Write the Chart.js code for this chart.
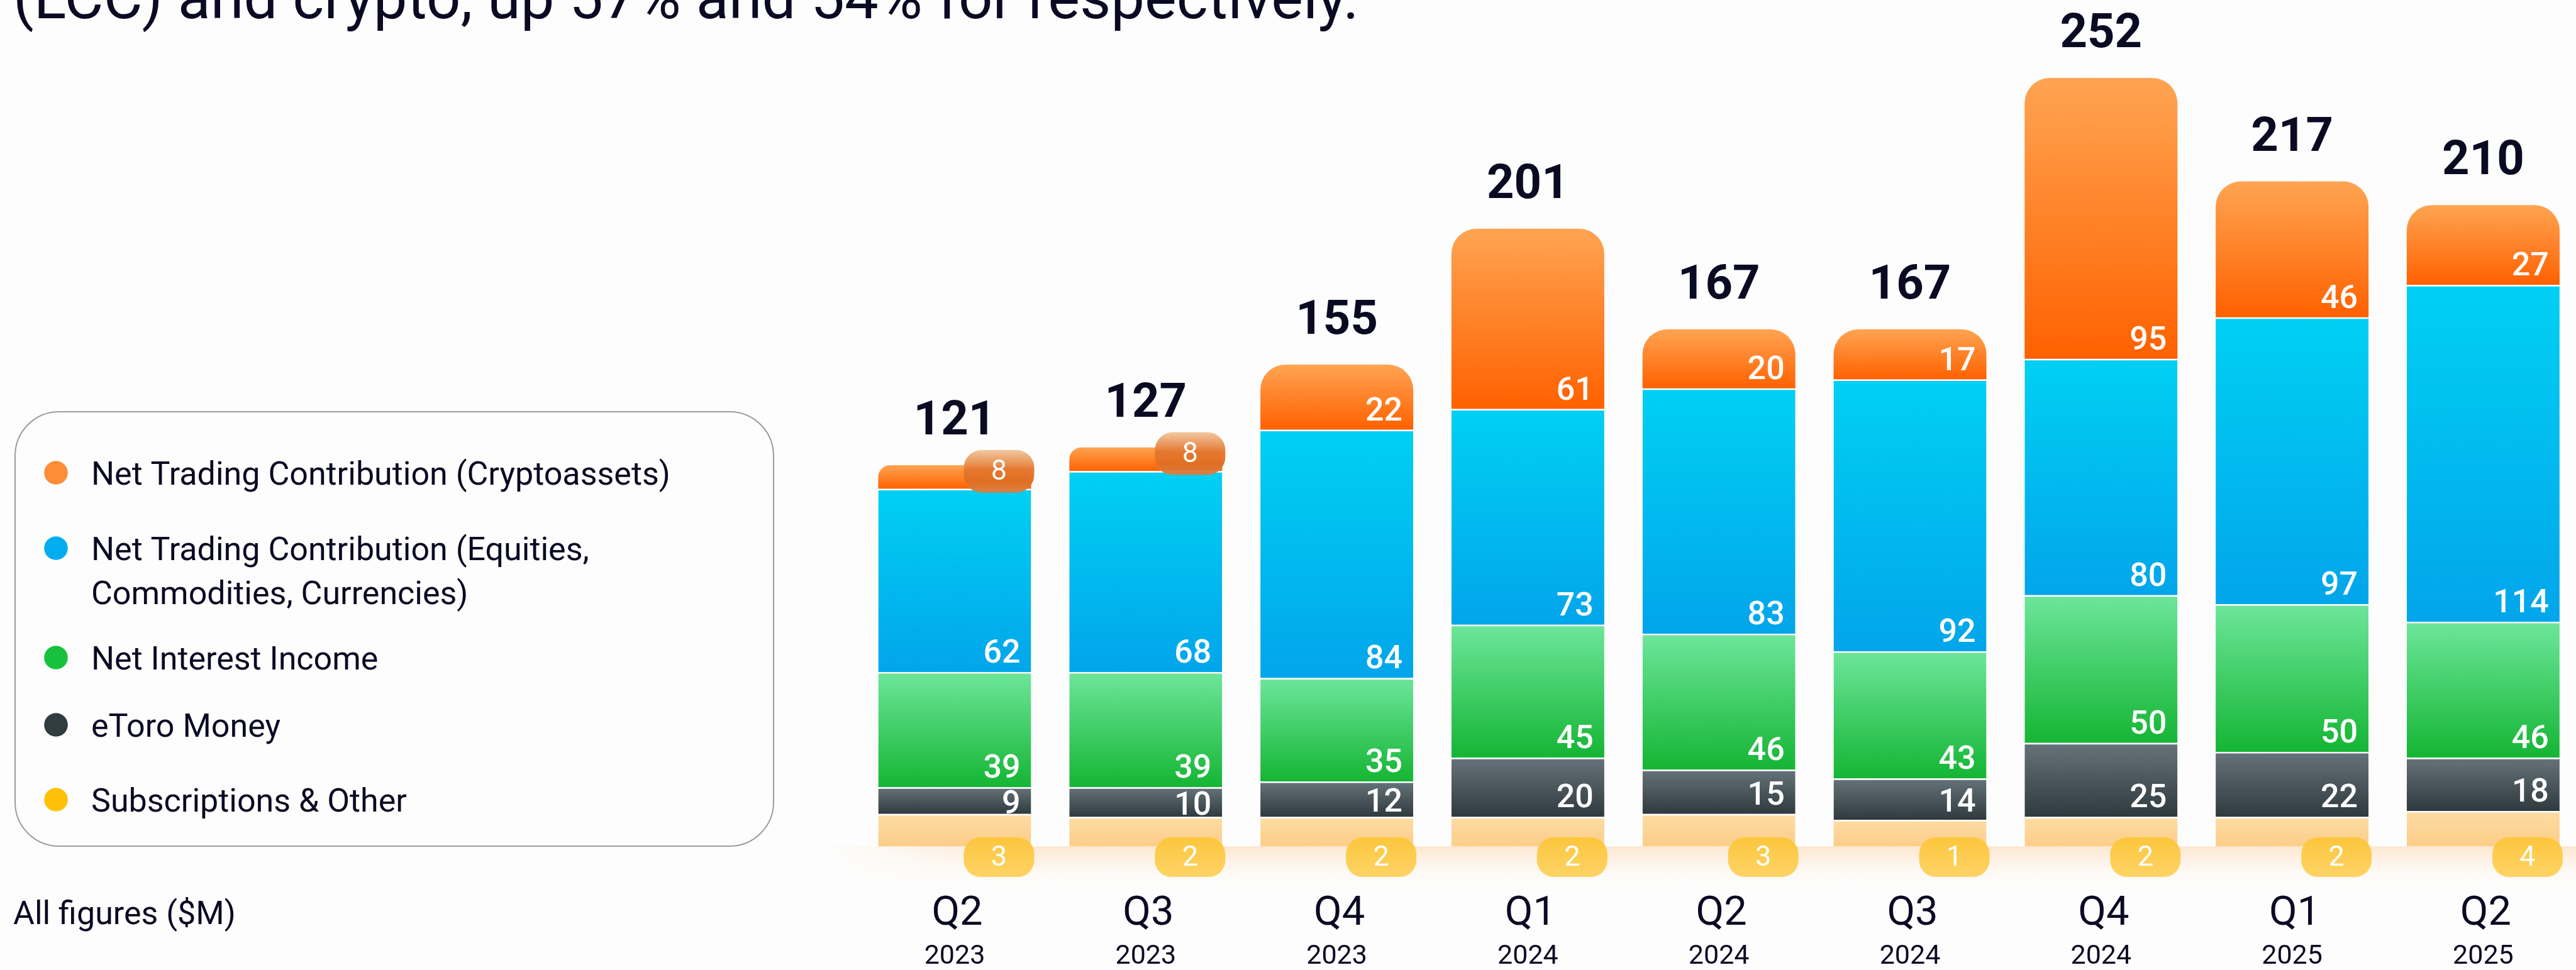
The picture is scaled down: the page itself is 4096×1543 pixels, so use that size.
<!DOCTYPE html>
<html>
<head>
<meta charset="utf-8">
<script src="https://cdn.jsdelivr.net/npm/chart.js@4.4.0/dist/chart.umd.min.js"></script>
<style>
  html, body { margin: 0; padding: 0; background: #fdfdfd; }
  #wrap { width: 4096px; height: 1543px; position: relative; }
</style>
</head>
<body>
<div id="wrap"><canvas id="revenueChart"></canvas></div>
<script>
const quarters = ['Q2', 'Q3', 'Q4', 'Q1', 'Q2', 'Q3', 'Q4', 'Q1', 'Q2'];
const years = ['2023', '2023', '2023', '2024', '2024', '2024', '2024', '2025', '2025'];

// $M per quarter, bottom of the stack first
const subscriptions = [3, 2, 2, 2, 3, 1, 2, 2, 4];
const etoroMoney = [9, 10, 12, 20, 15, 14, 25, 22, 18];
const netInterest = [39, 39, 35, 45, 46, 43, 50, 50, 46];
const tradingEquities = [62, 68, 84, 73, 83, 92, 80, 97, 114];
const tradingCrypto = [8, 8, 22, 61, 20, 17, 95, 46, 27];
const totals = [121, 127, 155, 201, 167, 167, 252, 217, 210];

const seriesNames = [
  'Subscriptions & Other',
  'eToro Money',
  'Net Interest Income',
  'Net Trading Contribution (Equities, Commodities, Currencies)',
  'Net Trading Contribution (Cryptoassets)'
];
const dotColors = ['#ffc107', '#303d40', '#17c13c', '#03aeef', '#ff8c38'];
const barShades = [
  ['#fddca4', '#fccd88'],
  ['#66737a', '#2e3a3e'],
  ['#6de69b', '#15b534'],
  ['#00d0f3', '#02a5ea'],
  ['#ffa452', '#ff6100']
];

const titleText = '(LCC) and crypto, up 57% and 54% for respectively.';
const noteText = 'All figures ($M)';

const stackData = [subscriptions, etoroMoney, netInterest, tradingEquities, tradingCrypto];
const Y_MIN = -8;
const Y_MAX = 275;
const INK = '#0a0a23';
const BG = '#fdfdfd';
const FONT = 'Roboto, "Noto Sans", sans-serif';
const CAP = 37.5;

const ctx = document.getElementById('revenueChart').getContext('2d');

function stackStart(d, i) {
  let s = 0;
  for (let k = 0; k < d; k++) s += stackData[k][i];
  return s;
}

function shade(d) {
  return (c) => {
    const chart = c.chart;
    if (!chart.chartArea || c.type !== 'data') return barShades[d][1];
    const y = chart.scales.y;
    const from = d === 0 ? Y_MIN : stackStart(d, c.dataIndex);
    const to = stackStart(d, c.dataIndex) + stackData[d][c.dataIndex];
    const g = chart.ctx.createLinearGradient(0, y.getPixelForValue(to), 0, y.getPixelForValue(from));
    g.addColorStop(0, barShades[d][0]);
    g.addColorStop(1, barShades[d][1]);
    return g;
  };
}

function drawTag(c, cx, cy, w, h, stops, text) {
  const g = c.createLinearGradient(0, cy - h / 2, 0, cy + h / 2);
  stops.forEach(s => g.addColorStop(s[0], s[1]));
  c.beginPath();
  c.roundRect(cx - w / 2, cy - h / 2, w, h, h * 0.42);
  c.fillStyle = g;
  c.fill();
  c.fillStyle = '#ffffff';
  c.font = '400 45px ' + FONT;
  c.textAlign = 'center';
  c.textBaseline = 'middle';
  c.fillText(text, cx, cy + 2);
}

const orangeTag = [[0, 'rgba(242,198,158,0.97)'], [0.45, 'rgba(228,120,48,0.97)'], [0.75, 'rgba(224,110,34,0.97)'], [1, 'rgba(214,128,72,0.97)']];
const yellowTag = [[0, 'rgba(252,198,58,0.97)'], [1, 'rgba(254,210,96,0.97)']];

function wrapText(c, text, maxW) {
  const words = text.split(' ');
  const lines = [];
  let line = '';
  words.forEach(w => {
    const test = line ? line + ' ' + w : w;
    if (c.measureText(test).width > maxW && line) {
      lines.push(line);
      line = w;
    } else {
      line = test;
    }
  });
  lines.push(line);
  return lines;
}

const backdrop = {
  id: 'backdrop',
  beforeDraw(chart) {
    const c = chart.ctx;
    c.save();
    c.fillStyle = BG;
    c.fillRect(0, 0, chart.width, chart.height);
    c.restore();
  },
  afterDraw(chart) {
    const c = chart.ctx;
    c.save();
    c.fillStyle = INK;
    c.textAlign = 'left';
    c.textBaseline = 'alphabetic';

    // title line, cut at the top like the slide
    c.font = '400 100px ' + FONT;
    const size = 100 * 2141 / c.measureText(titleText).width;
    c.font = '400 ' + size.toFixed(1) + 'px ' + FONT;
    c.fillText(titleText, 21, 29);

    // legend box
    c.beginPath();
    c.roundRect(24, 655, 1206, 691, 70);
    c.lineWidth = 2;
    c.strokeStyle = '#9c9c9c';
    c.stroke();

    const rows = [752, 872, 1046, 1153, 1272];
    c.font = '400 52px ' + FONT;
    for (let k = 0; k < seriesNames.length; k++) {
      const d = seriesNames.length - 1 - k;
      c.beginPath();
      c.arc(89, rows[k], 18.8, 0, Math.PI * 2);
      c.fillStyle = dotColors[d];
      c.fill();
      c.fillStyle = INK;
      wrapText(c, seriesNames[d], 1000).forEach((ln, j) => {
        c.fillText(ln, 145, rows[k] + 19 + j * 70);
      });
    }
    c.fillText(noteText, 21, 1470);

    // category labels
    const x = chart.scales.x;
    c.textAlign = 'center';
    quarters.forEach((q, i) => {
      const px = x.getPixelForValue(i);
      c.font = '400 65px ' + FONT;
      c.fillText(q, px + 4, 1471);
      c.font = '400 43px ' + FONT;
      c.fillText(years[i], px, 1533);
    });
    c.restore();
  }
};

const floor = {
  id: 'floor',
  beforeDatasetsDraw(chart) {
    const c = chart.ctx;
    const bottom = chart.chartArea.bottom;
    const left = chart.scales.x.getPixelForValue(0) - 200;
    c.save();
    const g = c.createLinearGradient(0, bottom, 0, bottom + 75);
    g.addColorStop(0, 'rgba(252,226,196,0.8)');
    g.addColorStop(1, 'rgba(253,253,253,0)');
    c.fillStyle = g;
    c.fillRect(left, bottom, chart.width - left, 75);
    const h = c.createLinearGradient(left, 0, left + 300, 0);
    h.addColorStop(0, BG);
    h.addColorStop(1, 'rgba(253,253,253,0)');
    c.fillStyle = h;
    c.fillRect(left, bottom, 300, 75);
    c.restore();
  }
};

const values = {
  id: 'values',
  afterDatasetsDraw(chart) {
    const c = chart.ctx;
    const area = chart.chartArea;
    c.save();
    for (let d = 1; d < stackData.length; d++) {
      chart.getDatasetMeta(d).data.forEach((bar, i) => {
        const {x, y, base, width} = bar.getProps(['x', 'y', 'base', 'width'], true);
        const right = x + width / 2;
        const text = String(stackData[d][i]);
        if (d === 4 && base - y < 60) {
          drawTag(c, right + 5 - 56, (y + base) / 2 - 9, 112, 68, orangeTag, text);
          return;
        }
        const top = y + (d === 4 ? 0 : 2.5);
        const baseline = base - top >= CAP + 30 ? base - 15 : (top + base) / 2 + CAP / 2;
        c.font = '500 52px ' + FONT;
        c.fillStyle = '#ffffff';
        c.textAlign = 'right';
        c.textBaseline = 'alphabetic';
        c.fillText(text, right - 17, baseline);
      });
    }
    chart.getDatasetMeta(0).data.forEach((bar, i) => {
      const {x, width} = bar.getProps(['x', 'width'], true);
      drawTag(c, x + width / 2 + 5 - 56, area.bottom + 17, 112, 63, yellowTag, String(subscriptions[i]));
    });
    chart.getDatasetMeta(4).data.forEach((bar, i) => {
      const {x, y} = bar.getProps(['x', 'y'], true);
      c.font = '700 76px ' + FONT;
      c.fillStyle = INK;
      c.textAlign = 'center';
      c.textBaseline = 'alphabetic';
      c.fillText(String(totals[i]), x, y - 49);
    });
    c.restore();
  }
};

const datasets = stackData.map((data, d) => ({
  label: seriesNames[d],
  data: data,
  backgroundColor: shade(d),
  borderColor: '#ffffff',
  borderWidth: d === 4 ? 0 : {top: 2.5, right: 0, bottom: 0, left: 0},
  borderSkipped: 'start',
  borderRadius: d === 4 ? {topLeft: 40, topRight: 40, bottomLeft: 0, bottomRight: 0} : 0,
  base: d === 0 ? Y_MIN : undefined,
  barPercentage: 0.8,
  categoryPercentage: 1,
  clip: false
}));

new Chart(ctx, {
  type: 'bar',
  data: {
    labels: quarters.map((q, i) => q + ' ' + years[i]),
    datasets: datasets
  },
  options: {
    responsive: true,
    maintainAspectRatio: false,
    animation: false,
    devicePixelRatio: 1,
    layout: { padding: { left: 1518, right: 147.6, top: 15.9, bottom: 196.6 } },
    plugins: {
      legend: { display: false },
      tooltip: { enabled: false },
      title: { display: false }
    },
    scales: {
      x: { stacked: true, display: false, offset: false },
      y: { stacked: true, display: false, min: Y_MIN, max: Y_MAX }
    }
  },
  plugins: [backdrop, floor, values]
});
</script>
</body>
</html>
